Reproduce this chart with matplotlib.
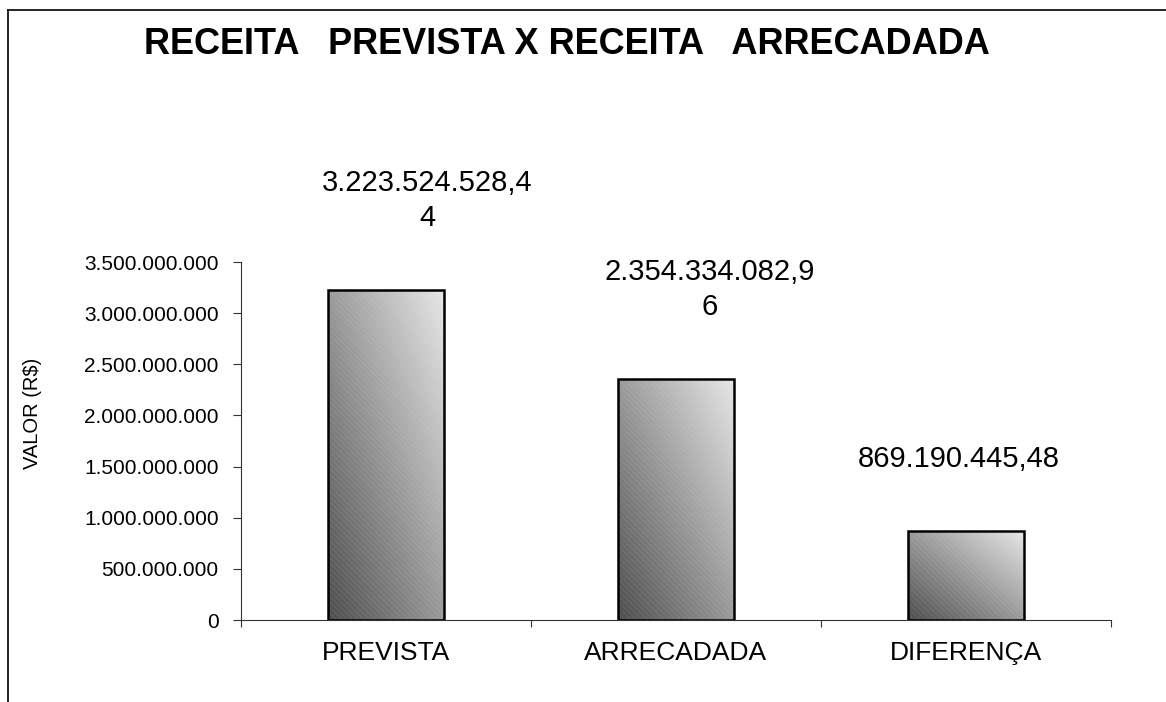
import textwrap
import numpy as np
import matplotlib
matplotlib.use("Agg")
import matplotlib.pyplot as plt
import matplotlib.ticker as ticker
from matplotlib.colors import LinearSegmentedColormap
from matplotlib.lines import Line2D

# dados
categorias = ["PREVISTA", "ARRECADADA", "DIFERENÇA"]
valores = [3223524528.44, 2354334082.96, 869190445.48]
titulo = "RECEITA   PREVISTA X RECEITA   ARRECADADA"
rotulo_y = "VALOR (R$)"
y_max = 3500000000
y_passo = 500000000

# deslocamento horizontal dos rótulos (pontos), como no original
desloc_rotulos = [30, 24, -5]


def fmt_br(v, casas=0):
    s = "{:,.{c}f}".format(v, c=casas)
    return s.replace(",", "#").replace(".", ",").replace("#", ".")


plt.rcParams["font.family"] = ["Liberation Sans", "DejaVu Sans"]
plt.rcParams["hatch.linewidth"] = 0.6

fig = plt.figure(figsize=(11.66, 7.02), dpi=100)
ax = fig.add_axes([241 / 1166, 1 - 620 / 702, 870 / 1166, 358 / 702])

cmap = LinearSegmentedColormap.from_list("cinza", ["#4e4e4e", "#9a9a9a", "#e6e6e6"])
largura = 0.40
x = np.arange(len(categorias))

u, v = np.meshgrid(np.linspace(0, 1, 200), np.linspace(0, 1, 200))
grad = (u + v) / 2

for xi, val, dx in zip(x, valores, desloc_rotulos):
    x0, x1 = xi - largura / 2, xi + largura / 2
    ax.imshow(grad, cmap=cmap, extent=[x0, x1, 0, val], origin="lower",
              aspect="auto", zorder=2, vmin=0, vmax=1)
    ax.bar(xi, val, width=largura, facecolor="none", edgecolor=(1, 1, 1, 0.09),
           hatch="\\\\\\\\\\\\", linewidth=0, zorder=3)
    ax.bar(xi, val, width=largura, facecolor="none", edgecolor="black",
           linewidth=1.8, zorder=4)
    rotulo = "\n".join(textwrap.wrap(fmt_br(val, 2), 15))
    ax.annotate(rotulo, (xi, val), xytext=(dx, 42), textcoords="offset points",
                ha="center", va="bottom", fontsize=21, linespacing=1.3)

ax.set_xlim(-0.5, len(categorias) - 0.5)
ax.set_ylim(0, y_max)

ax.set_xticks(np.arange(len(categorias) + 1) - 0.5)
ax.set_xticklabels([])
ax.set_xticks(x, minor=True)
ax.set_xticklabels(categorias, minor=True, fontsize=19)
ax.tick_params(axis="x", which="minor", length=0, pad=15)
ax.tick_params(axis="x", which="major", length=5, direction="out", color="#333333")

ax.yaxis.set_major_locator(ticker.MultipleLocator(y_passo))
ax.yaxis.set_major_formatter(ticker.FuncFormatter(lambda val, pos: fmt_br(val)))
ax.tick_params(axis="y", labelsize=15, length=6, direction="out", pad=10, color="#333333")

for lado in ["top", "right"]:
    ax.spines[lado].set_visible(False)
ax.spines["left"].set_color("#333333")
ax.spines["bottom"].set_color("#333333")

fig.text(567 / 1166, 1 - 44 / 702, titulo, ha="center", va="center",
         fontsize=26, fontweight="bold")
fig.text(33 / 1166, 1 - 413 / 702, rotulo_y, ha="center", va="center",
         rotation=90, fontsize=14.5)

# moldura
fig.add_artist(Line2D([8 / 1166, 8 / 1166], [0, 1 - 10 / 702], color="black", lw=1.2))
fig.add_artist(Line2D([8 / 1166, 1], [1 - 10 / 702, 1 - 10 / 702], color="black", lw=1.2))

fig.savefig("out.png", dpi=100)
